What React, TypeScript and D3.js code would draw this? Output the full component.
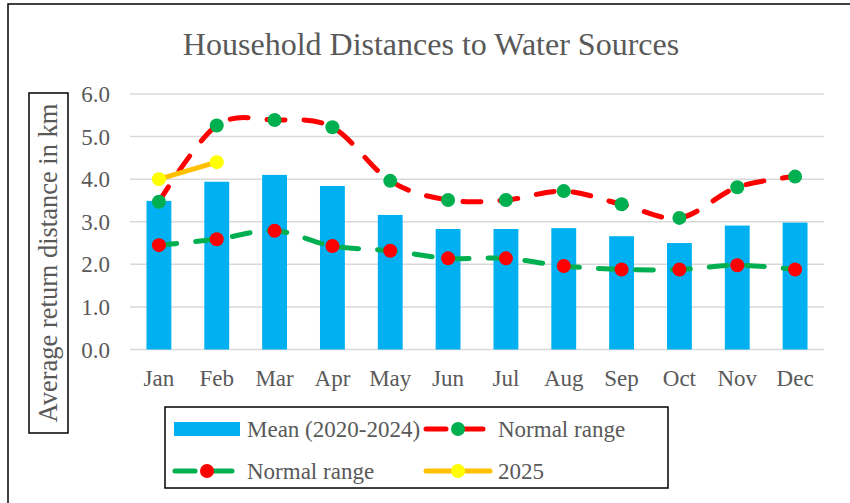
import React from "react";
import * as d3 from "d3";

const months = ["Jan", "Feb", "Mar", "Apr", "May", "Jun", "Jul", "Aug", "Sep", "Oct", "Nov", "Dec"];
const meanValues = [3.49, 3.94, 4.10, 3.84, 3.16, 2.83, 2.83, 2.85, 2.66, 2.50, 2.91, 2.98];
const upperNormal = [3.47, 5.26, 5.39, 5.22, 3.96, 3.51, 3.51, 3.72, 3.41, 3.09, 3.81, 4.06];
const lowerNormal = [2.45, 2.59, 2.79, 2.43, 2.32, 2.14, 2.14, 1.96, 1.88, 1.88, 1.98, 1.88];
const months2025 = ["Jan", "Feb"];
const values2025 = [4.0, 4.4];
const yTicks = [0, 1, 2, 3, 4, 5, 6];

const W = 850;
const H = 503;
const FONT = "'Liberation Serif', 'Times New Roman', serif";
const TEXT = "#595959";
const BLUE = "#00B0F0";
const RED = "#FF0000";
const GREEN = "#00B050";
const YELLOW = "#FFFF00";
const ORANGE = "#FFC000";

export default function App() {
  const x = d3.scaleBand<string>().domain(months).range([130, 824]).paddingInner(0.57).paddingOuter(0.285);
  const y = d3.scaleLinear().domain([0, 6]).range([349.5, 94]);
  const cx = (m: string) => (x(m) as number) + x.bandwidth() / 2;

  const line = d3
    .line<[string, number]>()
    .x((d) => cx(d[0]))
    .y((d) => y(d[1]))
    .curve(d3.curveCatmullRom.alpha(0));
  const straight = d3
    .line<[string, number]>()
    .x((d) => cx(d[0]))
    .y((d) => y(d[1]));

  const upperPts: [string, number][] = months.map((m, i) => [m, upperNormal[i]]);
  const lowerPts: [string, number][] = months.map((m, i) => [m, lowerNormal[i]]);
  const pts2025: [string, number][] = months2025.map((m, i) => [m, values2025[i]]);

  const dash = "18 19";
  const sw = 5;
  const r = 7;

  return (
    <svg width={W} height={H} style={{ position: "absolute", left: 0, top: 0, background: "#fff" }} fontFamily={FONT}>
      <rect x={0} y={0} width={W} height={H} fill="#fff" />
      <rect x={8} y={4} width={W + 50} height={H + 50} fill="none" stroke="#000" strokeWidth={1.5} />

      <text x={431} y={55} textAnchor="middle" fontSize={32} fill={TEXT}>
        Household Distances to Water Sources
      </text>

      {yTicks.map((t) => (
        <g key={t}>
          <line x1={130} x2={824} y1={y(t)} y2={y(t)} stroke="#D9D9D9" strokeWidth={1.5} />
          <text x={110} y={y(t)} dy="0.35em" textAnchor="end" fontSize={23} fill={TEXT}>
            {t.toFixed(1)}
          </text>
        </g>
      ))}

      {months.map((m, i) => (
        <rect key={m} x={x(m)} y={y(meanValues[i])} width={x.bandwidth()} height={y(0) - y(meanValues[i])} fill={BLUE} />
      ))}

      {months.map((m) => (
        <text key={m} x={cx(m)} y={386} textAnchor="middle" fontSize={23} fill={TEXT}>
          {m}
        </text>
      ))}

      <path d={line(upperPts) || ""} fill="none" stroke={RED} strokeWidth={sw} strokeDasharray={dash} strokeLinecap="round" />
      {upperPts.map((d) => (
        <circle key={d[0]} cx={cx(d[0])} cy={y(d[1])} r={r} fill={GREEN} />
      ))}

      <path d={line(lowerPts) || ""} fill="none" stroke={GREEN} strokeWidth={sw} strokeDasharray={dash} strokeLinecap="round" />
      {lowerPts.map((d) => (
        <circle key={d[0]} cx={cx(d[0])} cy={y(d[1])} r={r} fill={RED} />
      ))}

      <path d={straight(pts2025) || ""} fill="none" stroke={ORANGE} strokeWidth={sw} strokeLinecap="round" />
      {pts2025.map((d) => (
        <circle key={d[0]} cx={cx(d[0])} cy={y(d[1])} r={r} fill={YELLOW} />
      ))}

      <rect x={29} y={93} width={39} height={340} fill="none" stroke="#000" strokeWidth={1.5} />
      <text transform={`translate(48.5,263) rotate(-90)`} textAnchor="middle" dy="0.33em" fontSize={26.5} fill={TEXT}>
        Average return distance in km
      </text>

      <rect x={165} y={407} width={503} height={81} fill="none" stroke="#000" strokeWidth={1.5} />
      <g fontSize={23} fill={TEXT}>
        <rect x={174} y={422} width={66} height={14} fill={BLUE} />
        <text x={247} y={429} dy="0.35em">Mean (2020-2024)</text>

        <line x1={426} x2={483} y1={429} y2={429} stroke={RED} strokeWidth={sw} strokeDasharray="20 17" strokeLinecap="round" />
        <circle cx={458} cy={429} r={r} fill={GREEN} />
        <text x={498} y={429} dy="0.35em">Normal range</text>

        <line x1={175} x2={232} y1={471} y2={471} stroke={GREEN} strokeWidth={sw} strokeDasharray="20 17" strokeLinecap="round" />
        <circle cx={207} cy={471} r={r} fill={RED} />
        <text x={247} y={471} dy="0.35em">Normal range</text>

        <line x1={426} x2={490} y1={471} y2={471} stroke={ORANGE} strokeWidth={sw} strokeLinecap="round" />
        <circle cx={458} cy={471} r={r} fill={YELLOW} />
        <text x={498} y={471} dy="0.35em">2025</text>
      </g>
    </svg>
  );
}
